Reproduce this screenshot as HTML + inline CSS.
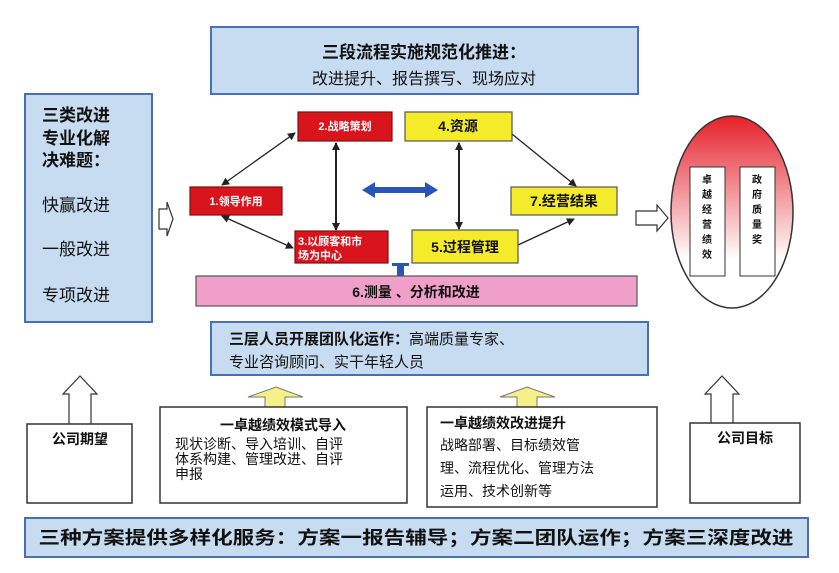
<!DOCTYPE html>
<html><head><meta charset="utf-8"><style>
body{margin:0;background:#fff;width:839px;height:568px;overflow:hidden}
svg text{font-family:"Liberation Sans","Noto Sans CJK SC",sans-serif}
</style></head><body>
<svg width="839" height="568" viewBox="0 0 839 568" xmlns="http://www.w3.org/2000/svg">
<defs>
<marker id="a" markerWidth="8" markerHeight="8" refX="7" refY="4" orient="auto-start-reverse" markerUnits="userSpaceOnUse"><path d="M0,0 L8,4 L0,8 z" fill="#222"/></marker>
<linearGradient id="og" x1="0" y1="0" x2="0" y2="1"><stop offset="0" stop-color="#e5202a"/><stop offset="0.75" stop-color="#fff"/><stop offset="1" stop-color="#fff"/></linearGradient>
</defs>
<rect x="211" y="27" width="427" height="67" fill="#c7dcf1" stroke="#4a6fb5" stroke-width="2"/>
<text x="424" y="58" font-size="17" font-weight="bold" text-anchor="middle" fill="#111">三段流程实施规范化推进：</text>
<text x="424" y="84" font-size="16" text-anchor="middle" fill="#111">改进提升、报告撰写、现场应对</text>
<rect x="25" y="94" width="127" height="228" fill="#c7dcf1" stroke="#4a6fb5" stroke-width="2"/>
<g font-size="17" font-weight="bold" fill="#111">
<text x="42" y="121">三类改进</text><text x="42" y="144">专业化解</text><text x="42" y="166">决难题：</text></g>
<g font-size="17" fill="#111">
<text x="42" y="211">快赢改进</text><text x="42" y="255">一般改进</text><text x="42" y="301">专项改进</text></g>
<path d="M159,209 L167,209 L167,202 L173,219 L167,236 L167,229 L159,229 z" fill="#fff" stroke="#333" stroke-width="1.2"/>
<g stroke="#222" stroke-width="1.3" fill="none">
<line x1="222" y1="185" x2="295" y2="133" marker-start="url(#a)" marker-end="url(#a)"/>
<line x1="222" y1="216" x2="293" y2="248" marker-start="url(#a)" marker-end="url(#a)"/>
<line x1="336" y1="143" x2="336" y2="230" stroke-width="2" marker-start="url(#a)" marker-end="url(#a)"/>
<line x1="459" y1="143" x2="459" y2="229" stroke-width="2" marker-start="url(#a)" marker-end="url(#a)"/>
<line x1="512" y1="134" x2="576" y2="186" marker-end="url(#a)"/>
<line x1="518" y1="245" x2="574" y2="219" marker-end="url(#a)"/>
</g>
<path d="M362,190 L375,182 L375,187 L425,187 L425,182 L438,190 L425,198 L425,193 L375,193 L375,198 z" fill="#2a55b8"/>
<g fill="#d9141c" stroke="#7a1010" stroke-width="1.2">
<rect x="190" y="187" width="92" height="28"/><rect x="298" y="112" width="94" height="29"/><rect x="295" y="231" width="93" height="32"/></g>
<g fill="#fff" font-size="11" font-weight="bold">
<text x="236" y="205" text-anchor="middle">1.领导作用</text>
<text x="345" y="130" text-anchor="middle">2.战略策划</text>
<text x="298" y="245">3.以顾客和市</text><text x="298" y="259">场为中心</text></g>
<g fill="#f4ec2a" stroke="#555" stroke-width="1.2">
<rect x="405" y="112" width="107" height="29"/><rect x="412" y="230" width="106" height="33"/><rect x="511" y="187" width="106" height="28"/></g>
<g fill="#111" font-size="14" font-weight="bold">
<text x="458" y="131" text-anchor="middle">4.资源</text>
<text x="465" y="252" text-anchor="middle">5.过程管理</text>
<text x="564" y="206" text-anchor="middle">7.经营结果</text></g>
<rect x="397" y="263" width="7" height="13" fill="#2a55b8"/><rect x="392" y="263" width="17" height="3" fill="#2a55b8"/>
<rect x="196" y="276" width="441" height="30" fill="#ef9fc8" stroke="#555" stroke-width="1.2"/>
<text x="416" y="297" font-size="14" font-weight="bold" text-anchor="middle" fill="#111">6.测量 、分析和改进</text>
<path d="M636,211 L657,211 L657,205 L668,218 L657,231 L657,225 L636,225 z" fill="#fff" stroke="#333" stroke-width="1.2"/>
<ellipse cx="732" cy="212" rx="61" ry="96" fill="url(#og)" stroke="#333" stroke-width="1.5"/>
<rect x="690" y="167" width="35" height="109" fill="#fff" stroke="#333"/>
<rect x="740" y="167" width="35" height="109" fill="#fff" stroke="#333"/>
<g font-size="10" font-weight="bold" fill="#111" text-anchor="middle">
<text x="707" y="183">卓</text><text x="707" y="198">越</text><text x="707" y="213">经</text><text x="707" y="228">营</text><text x="707" y="243">绩</text><text x="707" y="258">效</text>
<text x="757" y="183">政</text><text x="757" y="198">府</text><text x="757" y="213">质</text><text x="757" y="228">量</text><text x="757" y="243">奖</text></g>
<rect x="211" y="322" width="437" height="53" fill="#c7dcf1" stroke="#4a6fb5" stroke-width="2"/>
<text x="229" y="344" font-size="15" fill="#111"><tspan font-weight="bold">三层人员开展团队化运作：</tspan>高端质量专家、</text>
<text x="229" y="367" font-size="15" fill="#111">专业咨询顾问、实干年轻人员</text>
<path d="M69,424 L69,394 L63,394 L80,376 L97,394 L91,394 L91,424" fill="#fff" stroke="#333" stroke-width="1.2"/>
<path d="M711,424 L711,394 L705,394 L722,376 L739,394 L733,394 L733,424" fill="#fff" stroke="#333" stroke-width="1.2"/>
<path d="M265,407 L265,397 L248,397 L276,387 L303,397 L285,397 L285,407 z" fill="#f6f08a" stroke="#777" stroke-width="1"/>
<path d="M517,407 L517,397 L500,397 L527,387 L555,397 L537,397 L537,407 z" fill="#f6f08a" stroke="#777" stroke-width="1"/>
<g fill="#fff" stroke="#333" stroke-width="1.5">
<rect x="27" y="424" width="105" height="79"/><rect x="160" y="407" width="247" height="96"/>
<rect x="427" y="407" width="230" height="100"/><rect x="690" y="423" width="110" height="80"/></g>
<g fill="#111" font-size="14">
<text x="80" y="444" text-anchor="middle" font-weight="bold">公司期望</text>
<text x="745" y="443" text-anchor="middle" font-weight="bold">公司目标</text>
<text x="283" y="430" text-anchor="middle" font-weight="bold">一卓越绩效模式导入</text>
<text x="175" y="449">现状诊断、导入培训、自评</text>
<text x="175" y="464">体系构建、管理改进、自评</text>
<text x="175" y="479">申报</text>
<text x="440" y="428" font-weight="bold">一卓越绩效改进提升</text>
<text x="440" y="450">战略部署、目标绩效管</text>
<text x="440" y="473">理、流程优化、管理方法</text>
<text x="440" y="496">运用、技术创新等</text></g>
<rect x="25" y="518" width="783" height="39" fill="#c7dcf1" stroke="#4a6fb5" stroke-width="2"/>
<text x="416" y="544" font-size="18" font-weight="bold" text-anchor="middle" fill="#111" textLength="755" lengthAdjust="spacingAndGlyphs">三种方案提供多样化服务：方案一报告辅导；方案二团队运作；方案三深度改进</text>
</svg>
</body></html>
